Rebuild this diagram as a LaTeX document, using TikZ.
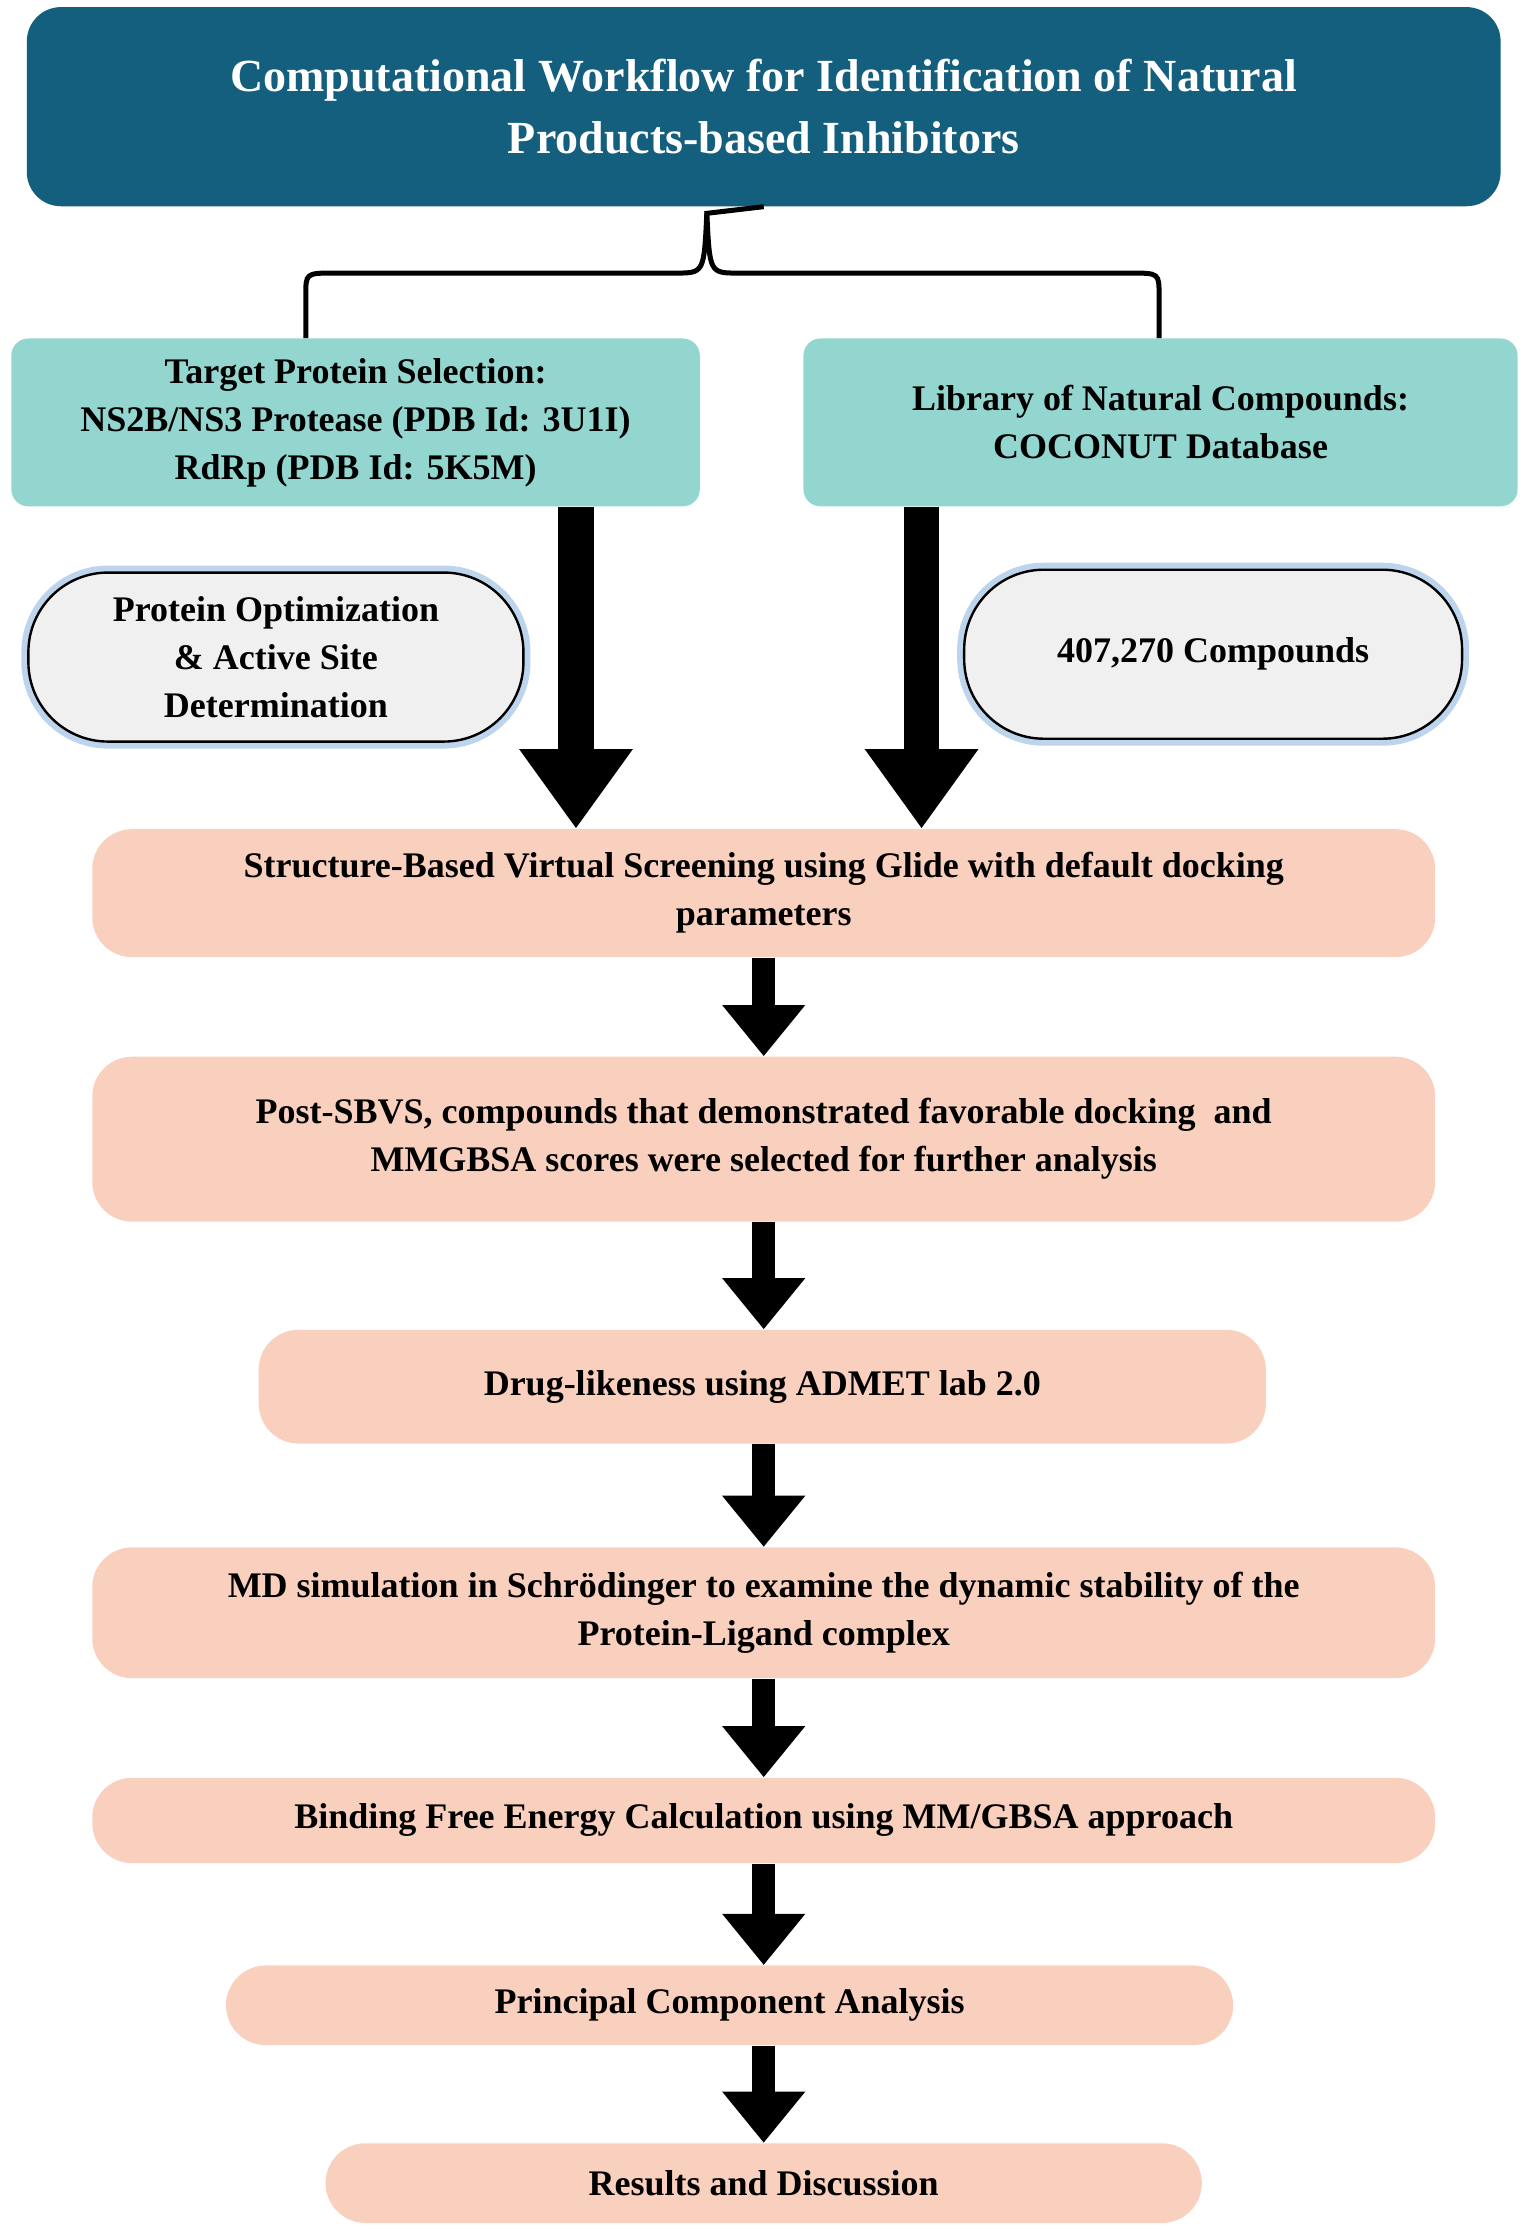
\documentclass[tikz,border=0pt]{standalone}
\usepackage{fontspec}
\setmainfont{Liberation Serif}
\usetikzlibrary{arrows.meta,positioning,calc}
\definecolor{titleblue}{HTML}{145E7E}
\definecolor{tealbox}{HTML}{93D5CF}
\definecolor{salmon}{HTML}{F9D0BE}
\definecolor{glow}{HTML}{8FB8E0}
\begin{document}
\begin{tikzpicture}[x=0.025cm, y=-0.025cm,
  title/.style = {fill=titleblue, text=white, rounded corners=0.6cm, align=center, font=\fontsize{23}{31}\selectfont\bfseries},
  target/.style = {fill=tealbox, rounded corners=0.3cm, align=center, minimum height=2.95cm, font=\fontsize{18}{24}\selectfont\bfseries},
  oval/.style = {draw, fill=black!6, line width=1.2pt, rounded corners=1.4cm, align=center, minimum width=8.7cm, minimum height=2.97cm, font=\fontsize{18}{24}\selectfont\bfseries, preaction={draw=glow, line width=7pt, opacity=0.6}},
  stage/.style = {fill=salmon, rounded corners=0.7cm, align=center, font=\fontsize{18}{24}\selectfont\bfseries},
  big/.style = {line width=0.62cm, -{Triangle[width=1.9cm, length=1.4cm]}},
  small/.style = {line width=0.4cm, -{Triangle[width=1.4cm, length=0.9cm]}}]
\useasboundingbox (0,0) rectangle (1072,1568);
\node[title, minimum width=25.9cm, minimum height=3.5cm] (head) at (537,75) {Computational Workflow for Identification of Natural\\Products-based Inhibitors};
\node[target, minimum width=12.1cm] (prot) at (250,297) {Target Protein Selection:\\NS2B/NS3 Protease (PDB Id: 3U1I)\\RdRp (PDB Id: 5K5M)};
\node[target, minimum width=12.55cm] (lib) at (816,297) {Library of Natural Compounds:\\COCONUT Database};
\node[oval] (opt) at (194,462) {Protein Optimization\\\& Active Site\\Determination};
\node[oval, minimum width=8.75cm] (cmpd) at (853,460) {407,270 Compounds};
\node[stage, minimum width=23.6cm, minimum height=2.25cm] (sbvs) at (537,628) {Structure-Based Virtual Screening using Glide with default docking\\parameters};
\node[stage, minimum width=23.6cm, minimum height=2.9cm] (post) at (537,801) {Post-SBVS, compounds that demonstrated favorable docking~ and\\MMGBSA scores were selected for further analysis};
\node[stage, minimum width=17.7cm, minimum height=2.0cm] (drug) at (536,975) {Drug-likeness using ADMET lab 2.0};
\node[stage, minimum width=23.6cm, minimum height=2.3cm] (md) at (537,1134) {MD simulation in Schrödinger to examine the dynamic stability of the\\Protein-Ligand complex};
\node[stage, minimum width=23.6cm, minimum height=1.5cm] (bfe) at (537,1280) {Binding Free Energy Calculation using MM/GBSA approach};
\node[stage, minimum width=17.7cm, minimum height=1.4cm] (pca) at (513,1410) {Principal Component Analysis};
\node[stage, minimum width=15.4cm, minimum height=1.4cm] (res) at (537,1535) {Results and Discussion};
% brace from title to the two inputs
\coordinate (bl) at (215,0);
\coordinate (br) at (815,0);
\draw[line width=2.5pt] (prot.north -| bl) -- (215,208) .. controls (215,192) .. (235,192) -- (475,192) .. controls (495,192) .. (497,150);
\draw[line width=2.5pt] (lib.north -| br) -- (815,208) .. controls (815,192) .. (795,192) -- (519,192) .. controls (499,192) .. (497,150) -- (head.south);
% arrows
\coordinate (la) at (405,0);
\coordinate (ra) at (648,0);
\draw[big] (prot.south -| la) -- (sbvs.north -| la);
\draw[big] (lib.south -| ra) -- (sbvs.north -| ra);
\draw[small] (sbvs) -- (post);
\draw[small] (post.south) -- (post.south |- drug.north);
\draw[small] (drug.south -| post.south) -- (md.north);
\draw[small] (md) -- (bfe);
\draw[small] (bfe.south) -- (bfe.south |- pca.north);
\draw[small] (pca.south -| bfe.south) -- (res.north);
\end{tikzpicture}
\end{document}
